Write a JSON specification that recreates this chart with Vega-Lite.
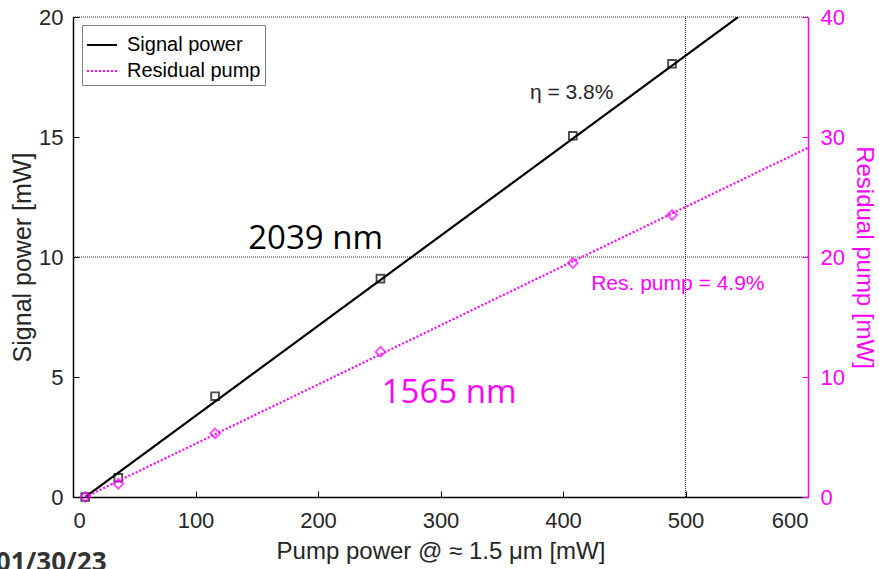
{
  "$schema": "https://vega.github.io/schema/vega-lite/v6.json",
  "width": 735,
  "height": 480,
  "autosize": "none",
  "padding": {"left": 73, "top": 17, "right": 71, "bottom": 72},
  "background": "white",
  "config": {
    "view": {"stroke": null},
    "axis": {
      "labelFont": "Liberation Sans",
      "labelFontSize": 22,
      "titleFont": "Liberation Sans",
      "titleFontSize": 25,
      "titleFontWeight": "normal",
      "grid": false,
      "domainColor": "black",
      "tickColor": "black",
      "labelColor": "#262626",
      "titleColor": "#262626",
      "tickSize": -6,
      "domainWidth": 1.5
    },
    "legend": {
      "labelFont": "Liberation Sans",
      "labelFontSize": 20,
      "labelColor": "black"
    }
  },
  "datasets": {
    "signal": [
      {"pump": 10, "power": 0.0},
      {"pump": 37, "power": 0.8},
      {"pump": 116, "power": 4.2},
      {"pump": 251, "power": 9.1},
      {"pump": 408, "power": 15.05},
      {"pump": 489, "power": 18.05}
    ],
    "residual": [
      {"pump": 10, "power": 0.0},
      {"pump": 37, "power": 1.1},
      {"pump": 116, "power": 5.3},
      {"pump": 251, "power": 12.1},
      {"pump": 408, "power": 19.5},
      {"pump": 489, "power": 23.5}
    ],
    "signalFit": [
      {"pump": 10, "power": 0, "series": "Signal power"},
      {"pump": 543, "power": 20, "series": "Signal power"}
    ],
    "residualFit": [
      {"pump": 10, "power": 0, "series": "Residual pump"},
      {"pump": 600, "power": 29.1, "series": "Residual pump"}
    ],
    "refs": [
      {"x": 0, "x2": 600, "y": 10, "y2": 10},
      {"x": 500, "x2": 500, "y": 0, "y2": 20},
      {"x": 0, "x2": 600, "y": 20, "y2": 20}
    ],
    "labels": [
      {"x": 143, "y": 10.33, "text": "2039 nm", "kind": "big", "col": "black"},
      {"x": 252, "y": 3.92, "text": "1565 nm", "kind": "big", "col": "#ff00ff"},
      {"x": 373, "y": 16.58, "text": "η = 3.8%", "kind": "small", "col": "#262626"},
      {"x": 423, "y": 8.63, "text": "Res. pump = 4.9%", "kind": "small", "col": "#ff00ff"}
    ],
    "stamp": [
      {"x": -63, "y": -3.1, "text": "01/30/23"}
    ]
  },
  "layer": [
    {
      "layer": [
        {
          "data": {"name": "refs"},
          "mark": {"type": "rule", "color": "#333333", "strokeWidth": 1.2, "strokeDash": [1, 1]},
          "encoding": {
            "x": {"field": "x", "type": "quantitative", "scale": {"domain": [0, 600], "nice": false},
              "axis": {"values": [0, 100, 200, 300, 400, 500, 600], "title": "Pump power @ ≈ 1.5 μm [mW]", "titleFontSize": 24, "labelPadding": 19, "titlePadding": 8}},
            "x2": {"field": "x2"},
            "y": {"field": "y", "type": "quantitative", "scale": {"domain": [0, 20], "nice": false},
              "axis": {"values": [0, 5, 10, 15, 20], "title": "Signal power [mW]", "labelPadding": 16, "titlePadding": 3}},
            "y2": {"field": "y2"}
          }
        },
        {
          "data": {"name": "signalFit"},
          "mark": {"type": "line", "strokeWidth": 2.2, "clip": true},
          "encoding": {
            "x": {"field": "pump", "type": "quantitative"},
            "y": {"field": "power", "type": "quantitative"},
            "color": {"field": "series", "type": "nominal",
              "scale": {"domain": ["Signal power", "Residual pump"], "range": ["black", "#ff00ff"]},
              "legend": {"title": null, "orient": "none", "legendX": 9, "legendY": 8,
                "strokeColor": "#808080", "fillColor": "white", "padding": 4,
                "symbolType": "stroke", "symbolSize": 900, "symbolStrokeWidth": 2,
                "labelOffset": 9, "rowPadding": -5}},
            "strokeDash": {"field": "series", "type": "nominal",
              "scale": {"domain": ["Signal power", "Residual pump"], "range": [[1, 0], [2, 2]]},
              "legend": {"title": null, "orient": "none", "legendX": 9, "legendY": 8,
                "strokeColor": "#808080", "fillColor": "white", "padding": 4,
                "symbolType": "stroke", "symbolSize": 900, "symbolStrokeWidth": 2,
                "labelOffset": 9, "rowPadding": -5}}
          }
        },
        {
          "data": {"name": "signal"},
          "mark": {"type": "point", "shape": "square", "filled": false, "size": 60, "stroke": "black", "strokeWidth": 1.9},
          "encoding": {
            "x": {"field": "pump", "type": "quantitative"},
            "y": {"field": "power", "type": "quantitative"}
          }
        },
        {
          "data": {"name": "labels"},
          "transform": [{"filter": "datum.kind == 'big'"}],
          "mark": {"type": "text", "align": "left", "baseline": "alphabetic", "font": "Open Sans", "fontSize": 33},
          "encoding": {
            "x": {"field": "x", "type": "quantitative"},
            "y": {"field": "y", "type": "quantitative"},
            "text": {"field": "text"},
            "color": {"field": "col", "type": "nominal", "scale": null, "legend": null}
          }
        },
        {
          "data": {"name": "labels"},
          "transform": [{"filter": "datum.kind == 'small'"}],
          "mark": {"type": "text", "align": "left", "baseline": "alphabetic", "font": "Liberation Sans", "fontSize": 21},
          "encoding": {
            "x": {"field": "x", "type": "quantitative"},
            "y": {"field": "y", "type": "quantitative"},
            "text": {"field": "text"},
            "color": {"field": "col", "type": "nominal", "scale": null, "legend": null}
          }
        },
        {
          "data": {"name": "stamp"},
          "mark": {"type": "text", "align": "left", "baseline": "alphabetic", "font": "Open Sans", "fontSize": 26, "fontWeight": "bold", "color": "#333333"},
          "encoding": {
            "x": {"field": "x", "type": "quantitative"},
            "y": {"field": "y", "type": "quantitative"},
            "text": {"field": "text"}
          }
        }
      ]
    },
    {
      "layer": [
        {
          "data": {"name": "residualFit"},
          "mark": {"type": "line", "strokeWidth": 2.2},
          "encoding": {
            "x": {"field": "pump", "type": "quantitative"},
            "y": {"field": "power", "type": "quantitative", "scale": {"domain": [0, 40], "nice": false},
              "axis": {"orient": "right", "values": [0, 10, 20, 30, 40], "title": "Residual pump [mW]",
                "titleFontSize": 24,
                "labelColor": "#ff00ff", "titleColor": "#ff00ff", "domainColor": "#ff00ff", "tickColor": "#ff00ff",
                "labelPadding": 18, "titlePadding": 7}},
            "color": {"field": "series", "type": "nominal"},
            "strokeDash": {"field": "series", "type": "nominal"}
          }
        },
        {
          "data": {"name": "residual"},
          "mark": {"type": "point", "shape": "diamond", "filled": false, "size": 95, "stroke": "#ff00ff", "strokeWidth": 1.9},
          "encoding": {
            "x": {"field": "pump", "type": "quantitative"},
            "y": {"field": "power", "type": "quantitative"}
          }
        }
      ]
    }
  ],
  "resolve": {"scale": {"y": "independent"}}
}
